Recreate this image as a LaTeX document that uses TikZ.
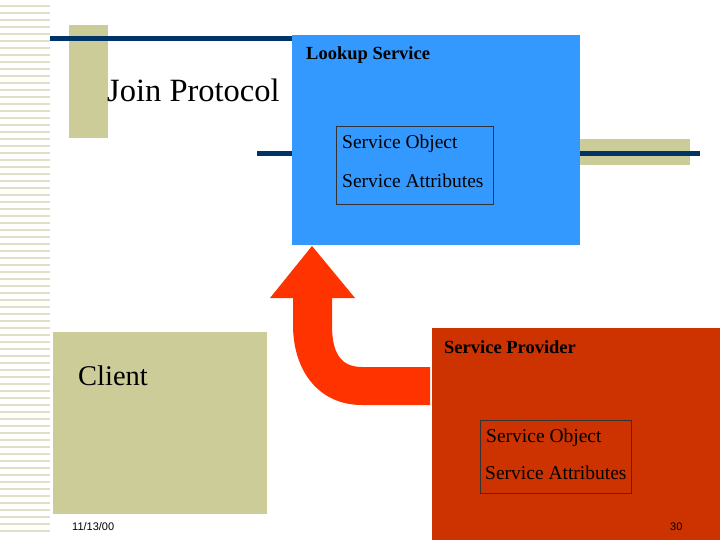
\documentclass[tikz,border=0pt]{standalone}
\usepackage{fontspec}
\setmainfont{Liberation Serif}
\newfontfamily\sans{Liberation Sans}
\definecolor{khaki}{RGB}{204,204,153}
\definecolor{navy}{RGB}{0,51,102}
\definecolor{lookup}{RGB}{51,153,255}
\definecolor{provider}{RGB}{204,51,0}
\definecolor{arrowred}{RGB}{255,51,0}
\definecolor{stripe}{RGB}{224,224,200}
\tikzset{
  txt/.style={anchor=west, inner sep=0pt, font=\fontsize{19.5}{21}\selectfont},
  head/.style={anchor=west, inner sep=0pt, font=\fontsize{18.5}{20}\selectfont\bfseries},
  attrbox/.style={draw=black!80, line width=0.6pt}
}
\begin{document}
\begin{tikzpicture}[x=1pt, y=-1pt]
  \useasboundingbox (0,0) rectangle (720,540);
  % left stripes
  \foreach \y in {6,13,...,532}
    \draw[stripe, line width=2.5pt] (0,\y)--(50,\y);
  % decorations
  \fill[khaki] (69,25) rectangle (108,138);
  \fill[khaki] (580,139) rectangle (690,165);
  \draw[navy, line width=5pt] (50,39)--(295,39);
  \draw[navy, line width=5pt] (257,154)--(292,154);
  \draw[navy, line width=5pt] (580,154)--(700,154);
  \node[txt, font=\fontsize{32.5}{34}\selectfont] (join) at (107,90) {Join Protocol};

  % lookup service
  \fill[lookup] (292,35) rectangle (580,245);
  \node[head] (lookup) at (306,55) {Lookup Service};
  \draw[attrbox] (336,126) rectangle (493,204);
  \node[txt] (lobj) at (342,144) {Service Object};
  \node[txt] (lattr) at (342,181) {Service Attributes};

  % client
  \fill[khaki] (53,332) rectangle (267,514);
  \node[txt, font=\fontsize{28.5}{30}\selectfont] (client) at (78,376) {Client};

  % service provider
  \fill[provider] (432,328) rectangle (720,540);
  \node[head] (provider) at (444,347) {Service Provider};
  \draw[attrbox] (480,420) rectangle (631,493);
  \node[txt] (pobj) at (486,438) {Service Object};
  \node[txt] (pattr) at (485,473) {Service Attributes};

  % join arrow
  \fill[arrowred] (312,246) -- (355,298) -- (332,298) -- (332,325)
    .. controls (332,352) and (340,367) .. (362,367) -- (430,367) -- (430,405)
    -- (362,405) .. controls (318,405) and (293,370) .. (293,325)
    -- (293,298) -- (270,298) -- cycle;

  % footer
  \node[anchor=west, inner sep=0pt, font=\sans\fontsize{11}{13}\selectfont] (date) at (72,527) {11/13/00};
  \node[anchor=west, inner sep=0pt, font=\sans\fontsize{11}{13}\selectfont] (page) at (670,527) {30};
\end{tikzpicture}
\end{document}
